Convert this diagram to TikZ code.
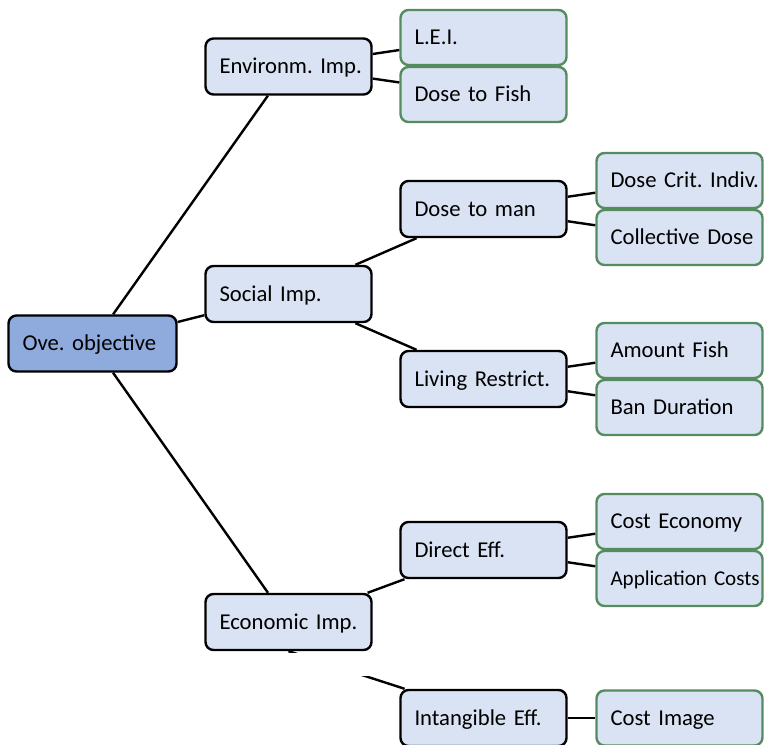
\documentclass[tikz,border=0pt]{standalone}
\usepackage{fontspec}
\setmainfont{Carlito}
\usepackage{tikz}
\usetikzlibrary{positioning}
\usepackage{xcolor}

\hyphenpenalty=10000
\exhyphenpenalty=10000

\definecolor{boxfill}{RGB}{218,227,243}
\definecolor{rootfill}{RGB}{143,170,220}
\definecolor{leafline}{RGB}{84,140,96}

\tikzset{
    impbox/.style={draw=black, line width=1.8pt, fill=boxfill, rounded corners=6pt,
        text width=103.5pt, align=left, inner xsep=10.5pt, minimum height=42pt,
        text height=11pt, text depth=0pt, font=\fontsize{17}{20}\selectfont},
    rootbox/.style={impbox, fill=rootfill, text width=105pt},
    leafbox/.style={impbox, draw=leafline, minimum height=41.25pt},
    conn/.style={line width=1.8pt, black}
}

\begin{document}
\begin{tikzpicture}[x=0.75pt,y=-0.75pt]
        \useasboundingbox (0,0) rectangle (764,744);
        % Root
        \node[rootbox] (ove) at (92.5,343.5) {Ove.~objective};
        % Impacts
        \node[impbox] (env) at (288.5,66.5) {Environm.~Imp.};
        \node[impbox] (soc) at (288.5,294) {Social~Imp.};
        \node[impbox] (econ) at (288.5,622) {Economic~Imp.};
        % Sub criteria
        \node[impbox] (dman) at (483.5,209) {Dose~to~man};
        \node[impbox] (living) at (483.5,379) {Living~Restrict.};
        \node[impbox] (direct) at (483.5,550) {Direct~Eff.};
        \node[impbox] (intang) at (483.5,718) {Intangible~Eff.};
        % Attributes
        \node[leafbox] (lei) at (483.5,37.5) {L.E.I.};
        \node[leafbox] (dfish) at (483.5,94.5) {Dose~to~Fish};
        \node[leafbox] (dcrit) at (679.5,180.5) {Dose~Crit.~Indiv.};
        \node[leafbox] (coll) at (679.5,237.5) {Collective~Dose};
        \node[leafbox] (amount) at (679.5,350.5) {Amount~Fish};
        \node[leafbox] (ban) at (679.5,407.5) {Ban~Duration};
        \node[leafbox] (costec) at (679.5,521.5) {Cost~Economy};
        \node[leafbox, font=\fontsize{15.8}{19}\selectfont] (appl) at (679.5,578.5) {Application~Costs};
        \node[leafbox] (costim) at (679.5,718) {Cost~Image};

        % Connectors
        \draw[conn] (ove) -- (env);
        \draw[conn] (ove) -- (soc);
        \draw[conn] (ove) -- (econ);
        \draw[conn] (env) -- (lei);
        \draw[conn] (env) -- (dfish);
        \draw[conn] (soc) -- (dman);
        \draw[conn] (soc) -- (living);
        \draw[conn] (dman) -- (dcrit);
        \draw[conn] (dman) -- (coll);
        \draw[conn] (living) -- (amount);
        \draw[conn] (living) -- (ban);
        \draw[conn] (econ) -- (direct);
        \draw[conn] (econ.south) -- ([xshift=4pt]intang.north west);
        \draw[conn] (direct) -- (costec);
        \draw[conn] (direct) -- (appl);
        \draw[conn] (intang) -- (costim);
        % page gap
        \fill[white] (0,653) rectangle (764,676);
\end{tikzpicture}
\end{document}
